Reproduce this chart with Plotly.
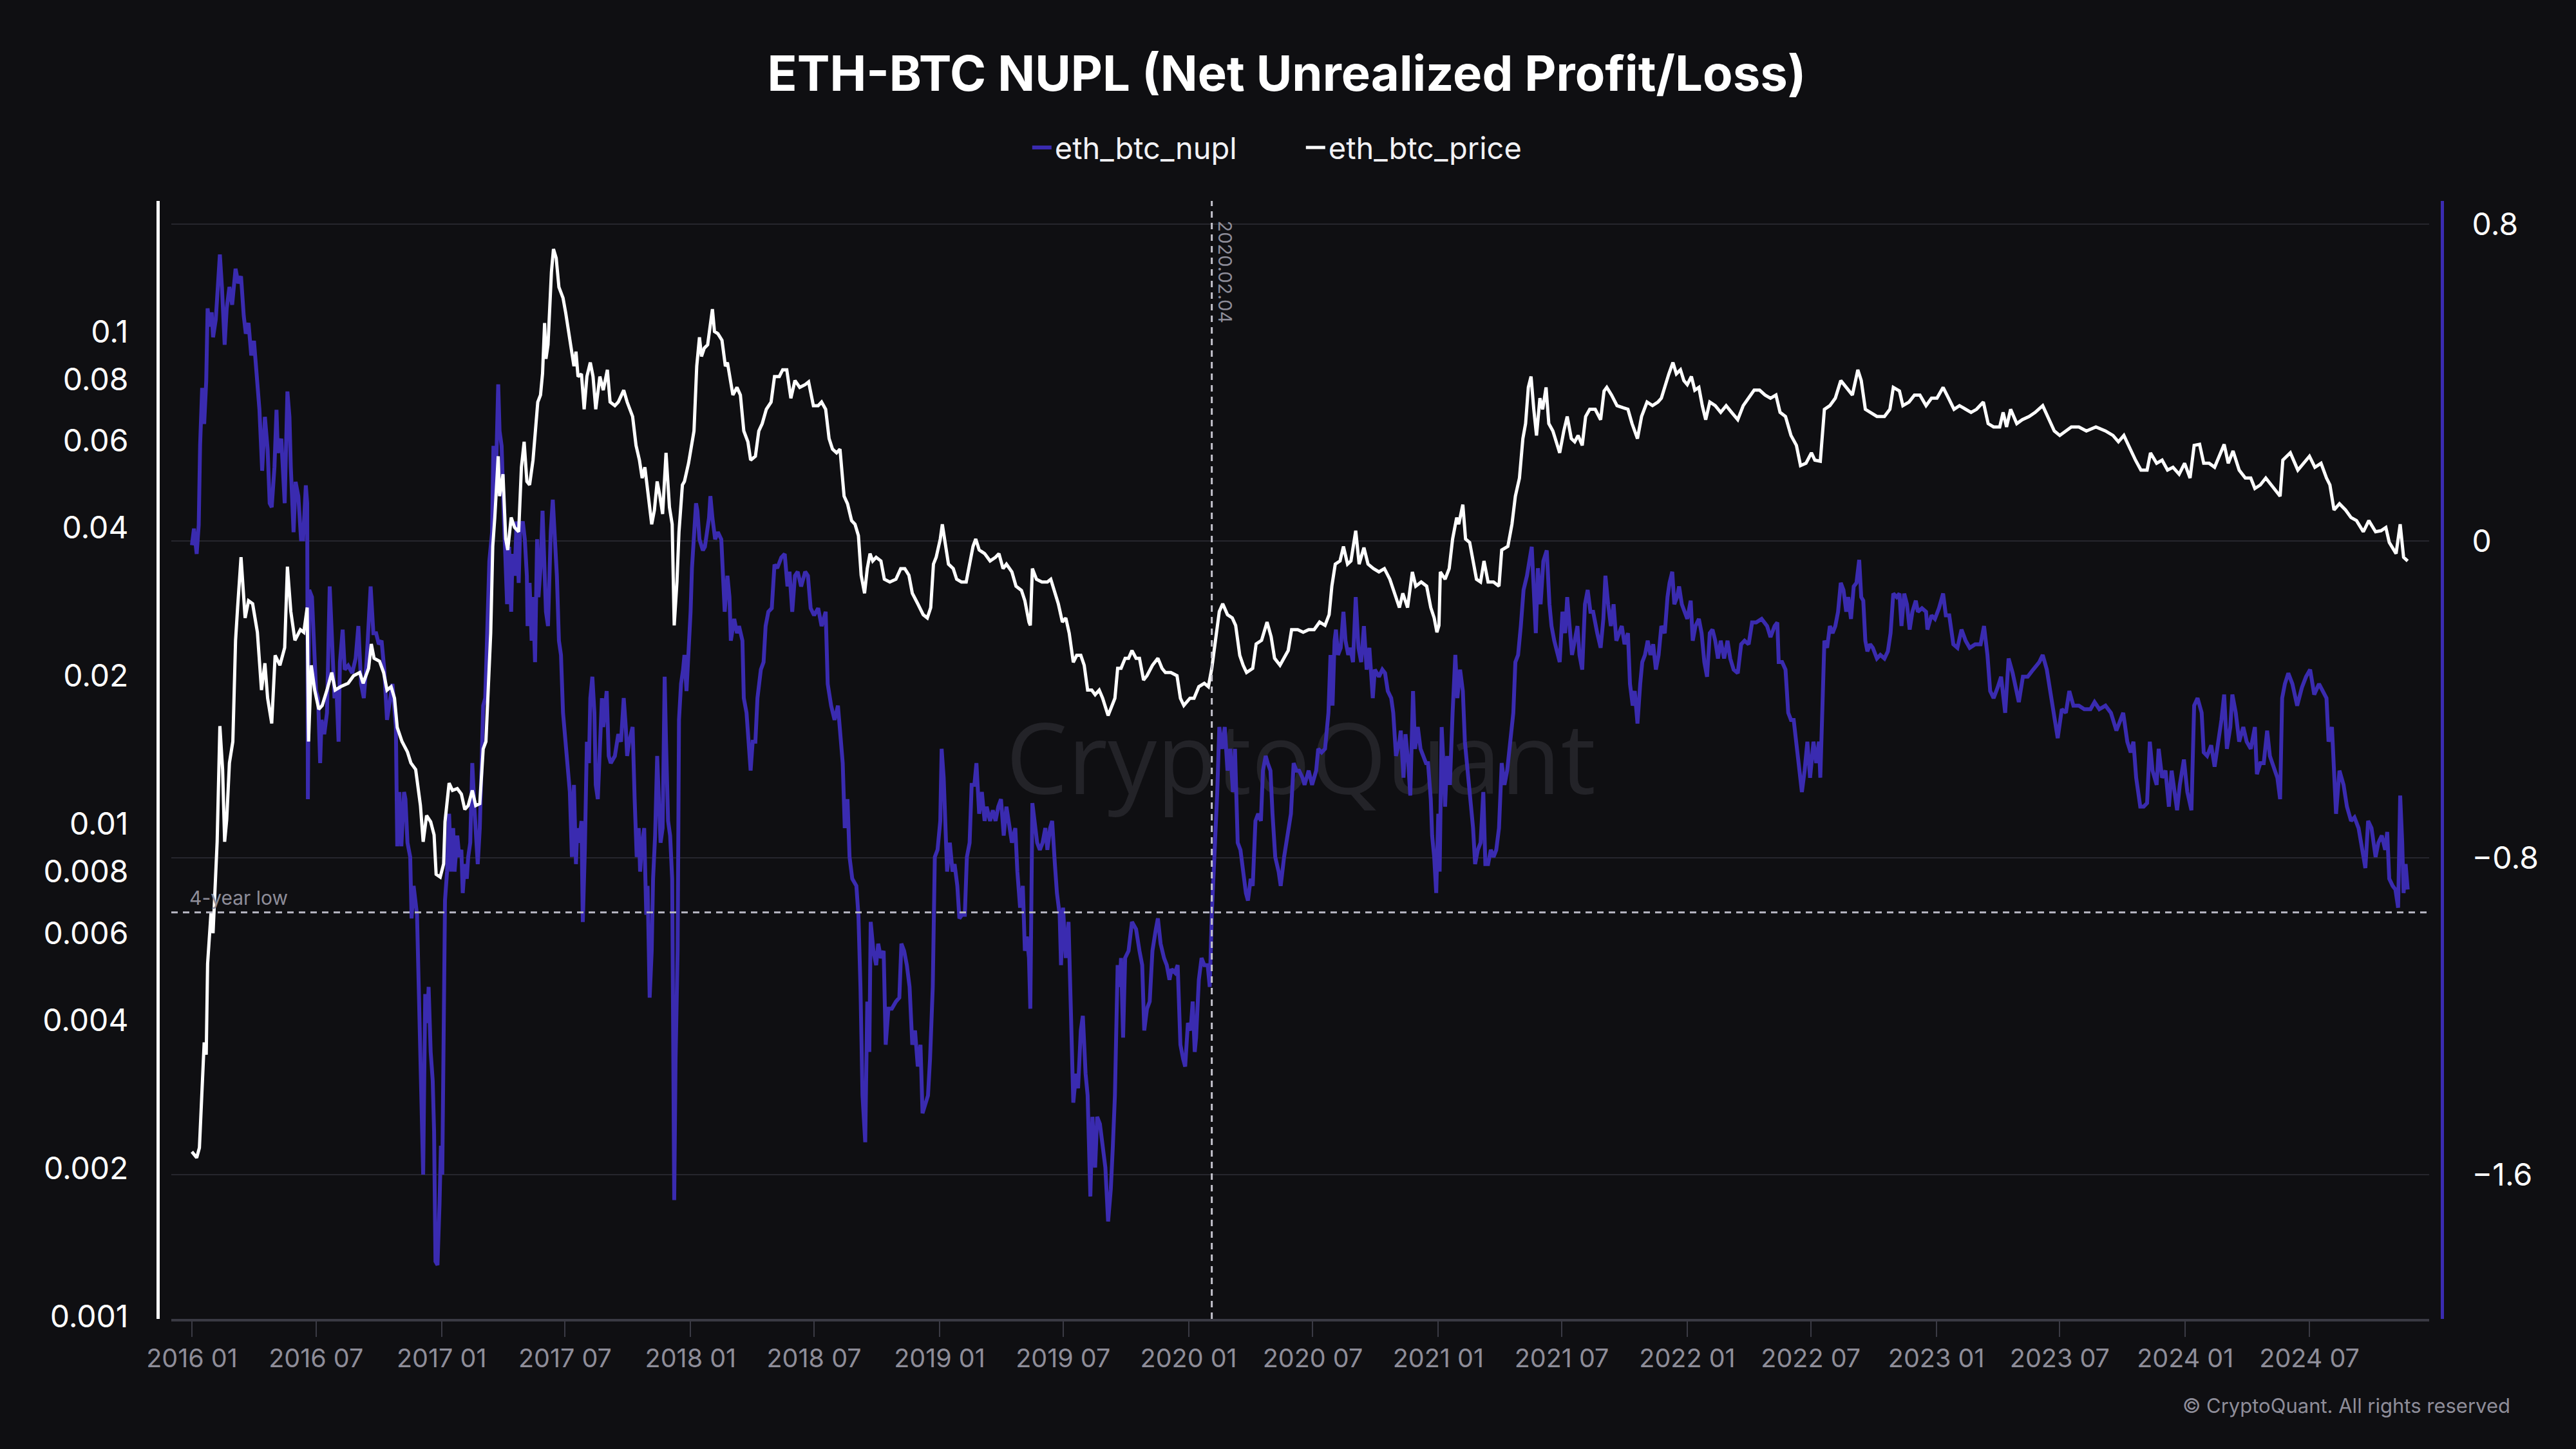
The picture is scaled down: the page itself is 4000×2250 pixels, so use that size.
import pandas as pd
import plotly.graph_objects as go

START = "2016-01-01"

# ---- eth_btc_price: day offset from 2016-01-01, value (BTC) ----
price_day = [0,7,11,15,18,21,23,28,31,37,41,45,48,51,55,60,64,67,72,78,83,89,96,102,107,111,117,122,129,136,140,145,151,159,164,169,171,175,180,186,191,198,205,210,218,229,237,246,251,259,263,267,275,281,286,292,297,301,308,316,321,328,335,339,344,350,355,358,364,369,371,377,382,389,395,400,405,411,416,422,427,431,434,438,441,444,449,451,456,460,463,468,473,479,483,487,491,495,500,504,507,511,514,517,519,522,527,530,534,538,544,548,552,556,560,563,566,571,575,579,584,588,592,598,603,609,613,620,625,633,638,646,651,656,660,664,668,674,678,682,686,690,695,700,704,707,711,714,719,722,728,732,736,740,744,747,751,756,759,763,766,771,777,782,
 785,790,793,799,804,809,815,819,826,831,836,842,849,854,861,866,872,878,884,891,899,904,911,918,923,929,934,939,945,950,956,961,967,972,977,981,986,990,994,998,1003,1010,1015,1023,1032,1039,1045,1051,1056,1064,1072,1078,1083,1087,1091,1097,1100,1105,1109,1116,1121,1128,1135,1140,1145,1149,1154,1162,1170,1178,1183,1189,1194,1202,1208,1216,1221,1227,1229,1232,1238,1246,1254,1259,1265,1270,1276,1281,1286,1292,1297,1303,1308,1313,1319,1324,1330,1335,1343,1349,1353,1357,1362,1368,1373,1378,1384,1389,1395,1400,1408,1416,1422,1427,1435,1444,1449,1454,1463,1469,1476,1484,1490,1495,1500,1506,1511,1518,1525,1530,1536,1541,1546,1555,1560,1568,1576,1582,1587,1595,
 1607,1612,1621,1629,1637,1645,1653,1661,1667,1671,1676,1683,1688,1694,1699,1706,1711,1718,1724,1732,1740,1748,1756,1764,1770,1775,1782,1789,1794,1802,1810,1816,1821,1825,1828,1830,1837,1843,1848,1854,1857,1863,1867,1873,1878,1883,1889,1894,1900,1908,1916,1920,1929,1935,1940,1946,1951,1955,1959,1963,1967,1971,1976,1980,1985,1989,1995,2000,2005,2011,2016,2022,2027,2032,2038,2043,2049,2057,2065,2070,2074,2081,2089,2098,2105,2111,2119,2125,2133,2141,2149,2154,2160,2165,2171,2176,2182,2187,2192,2198,2203,2209,2214,2219,2225,2233,2241,2249,2257,2266,2274,2282,2290,2298,2306,2314,2322,2328,2336,2344,2352,2358,2366,2374,2379,2387,2393,2401,2409,2417,2425,
 2434,2442,2447,2453,2461,2470,2481,2489,2494,2503,2508,2517,2525,2533,2542,2550,2558,2567,2575,2583,2591,2600,2608,2616,2626,2633,2641,2650,2655,2660,2666,2675,2683,2693,2702,2713,2722,2730,2738,2747,2755,2766,2777,2791,2805,2816,2824,2832,2841,2849,2857,2866,2871,2880,2888,2896,2904,2913,2921,2929,2935,2943,2949,2957,2965,2974,2979,2985,2992,3001,3010,3018,3024,3032,3040,3048,3057,3061,3065,3076,3087,3096,3104,3112,3121,3129,3134,3140,3148,3157,3165,3173,3183,3191,3201,3209,3216,3221,3231,3237,3242,3248]
price_val = [0.00216,0.0021,0.0022,0.0028,0.0036,0.0034,0.0052,0.0066,0.0060,0.0092,0.0158,0.0129,0.0092,0.0102,0.0133,0.0147,0.0236,0.0275,0.0348,0.0262,0.0284,0.028,0.0245,0.0187,0.0212,0.018,0.016,0.022,0.021,0.0228,0.0333,0.027,0.0236,0.0248,0.0245,0.0275,0.0147,0.021,0.0187,0.0171,0.0174,0.0187,0.0203,0.0187,0.019,0.0193,0.02,0.0203,0.0193,0.0207,0.0232,0.0217,0.0214,0.0203,0.0187,0.019,0.018,0.0157,0.0147,0.014,0.0133,0.0129,0.0109,0.0092,0.0104,0.0101,0.0095,0.0079,0.0078,0.0083,0.0101,0.0121,0.0117,0.0118,0.0115,0.0107,0.0109,0.0117,0.0109,0.011,0.0142,0.0147,0.0187,0.0244,0.0366,0.0419,0.0558,0.0463,0.0513,0.0379,0.036,0.0419,0.04,0.0392,0.053,0.0597,0.0496,0.0488,0.0548,0.0628,0.0719,0.0743,0.0822,0.104,0.088,0.094,0.132,0.147,0.141,0.123,0.117,0.109,0.1,0.094,0.085,0.091,0.081,0.082,0.0695,0.081,0.0865,0.081,0.0695,0.081,0.076,0.0836,0.0719,0.0707,0.0719,0.076,0.0719,0.0672,0.0587,0.0548,0.0504,0.053,0.048,0.0406,0.0434,0.0496,0.0463,0.0426,0.0567,0.044,0.0406,0.0253,0.031,0.0392,0.0488,0.0496,0.054,0.0587,0.0628,0.085,0.0973,0.089,0.0925,0.094,0.102,0.111,0.1,0.099,0.096,0.085,
 0.0865,0.0795,0.0743,0.077,0.0743,0.0628,0.0597,0.0548,0.0558,0.0628,0.065,0.0695,0.0719,0.081,0.081,0.0836,0.0836,0.0732,0.0795,0.077,0.078,0.079,0.0707,0.0707,0.0719,0.0695,0.0606,0.0577,0.0567,0.0577,0.0463,0.0447,0.0413,0.0406,0.0385,0.032,0.0294,0.033,0.0354,0.0342,0.0348,0.0342,0.0314,0.031,0.0314,0.033,0.033,0.032,0.0294,0.028,0.0266,0.0262,0.0275,0.0337,0.0348,0.0379,0.0406,0.0366,0.0337,0.033,0.0314,0.031,0.031,0.0337,0.0366,0.0379,0.036,0.0354,0.0342,0.0348,0.0354,0.033,0.0337,0.0325,0.0304,0.0298,0.0284,0.0257,0.0253,0.033,0.0314,0.031,0.031,0.0314,0.0294,0.028,0.0257,0.0262,0.0244,0.0213,0.022,0.022,0.021,0.0187,0.0187,0.0183,0.0187,0.018,0.0166,0.0174,0.018,0.0207,0.0207,0.0217,0.0217,0.0225,0.0217,0.0217,0.0196,0.02,0.021,0.0217,0.0207,0.0203,0.0203,0.020,0.018,0.0174,0.018,0.018,0.019,0.0193,0.019,0.0207,0.0236,0.027,0.028,0.0266,0.0262,0.0253,0.022,0.021,0.0203,0.0207,0.0232,0.0236,0.0257,0.024,0.0217,0.021,
 0.0225,0.0248,0.0248,0.0245,0.0248,0.0248,0.0257,0.0253,0.0266,0.0304,0.0337,0.0342,0.0366,0.0337,0.0342,0.0394,0.0337,0.0364,0.0337,0.033,0.0325,0.033,0.0314,0.0289,0.0275,0.0294,0.0275,0.0325,0.0304,0.031,0.0304,0.0275,0.0262,0.0245,0.0253,0.0325,0.0314,0.033,0.0379,0.0419,0.0406,0.0445,0.0379,0.0373,0.0342,0.0314,0.031,0.0342,0.031,0.031,0.0304,0.036,0.0366,0.0406,0.0463,0.0504,0.0606,0.065,0.077,0.081,0.0695,0.0615,0.0732,0.0695,0.077,0.065,0.0628,0.0597,0.0567,0.0628,0.0672,0.0606,0.0597,0.0615,0.0587,0.0672,0.0695,0.0695,0.0662,0.0757,0.077,0.0743,0.0707,0.07,0.0695,0.065,0.0606,0.0672,0.0719,0.0707,0.0719,0.0732,0.078,0.082,0.0865,0.082,0.0836,0.0795,0.078,0.081,0.076,0.077,0.0707,0.0662,0.0719,0.0707,0.0685,0.0707,0.0685,0.0662,0.0707,0.0732,0.076,0.076,0.0743,0.0732,0.0743,0.0685,0.0672,0.0615,0.0587,0.0534,0.054,0.0567,0.0548,0.0545,0.0695,0.0707,0.0732,0.0795,0.077,
 0.0743,0.0836,0.0795,0.0695,0.0685,0.0672,0.0672,0.0695,0.077,0.0757,0.0707,0.0719,0.0743,0.0743,0.0707,0.0732,0.0732,0.077,0.0732,0.0695,0.0707,0.0695,0.0685,0.0695,0.0719,0.065,0.064,0.064,0.0685,0.064,0.0695,0.065,0.0662,0.0672,0.0685,0.0707,0.0662,0.0628,0.0615,0.0628,0.064,0.064,0.0628,0.064,0.0628,0.0615,0.0597,0.0615,0.0577,0.0548,0.0523,0.0523,0.0567,0.054,0.0548,0.0523,0.053,0.0513,0.054,0.0504,0.0587,0.059,0.054,0.054,0.053,0.0567,0.059,0.054,0.0572,0.0523,0.0504,0.0504,0.048,0.0488,0.0504,0.0488,0.0472,0.0463,0.0548,0.0567,0.0523,0.054,0.0558,0.053,0.054,0.0504,0.0488,0.0434,0.0447,0.0434,0.0419,0.0413,0.0392,0.0413,0.0392,0.0394,0.04,0.0373,0.0354,0.0406,0.0348,0.0342]

# ---- eth_btc_nupl: day offset from 2016-01-01, value ----
nupl_day = [0,3,7,10,12,15,18,21,23,26,29,31,35,38,41,44,48,51,55,59,64,68,72,76,79,83,87,91,95,99,103,107,111,114,117,121,124,126,131,133,136,140,143,145,149,152,156,160,163,167,169,170,172,176,179,182,185,188,190,194,198,202,205,209,212,215,217,221,224,229,235,240,244,248,252,256,262,266,270,274,278,282,286,290,294,299,301,304,307,311,313,316,320,322,325,330,333,337,339,342,345,347,350,353,355,357,360,363,365,367,369,371,374,377,380,383,385,389,392,395,397,400,403,405,408,411,414,416,419,422,424,427,430,433,436,440,442,445,449,451,454,457,460,462,465,468,470,473,476,479,481,485,488,491,492,495,498,500,503,506,508,511,514,517,519,522,526,529,533,535,538,541,544,546,549,552,554,557,560,563,565,568,571,573,576,579,582,584,587,590,592,595,598,601,603,608,611,614,620,625,629,633,636,638,641,646,649,652,655,657,660,663,666,668,671,674,676,679,682,685,687,690,693,695,698,701,704,705,707,709,712,714,717,720,722,725,728,731,733,736,739,741,744,749,752,758,760,763,767,771,776,778,781,
 785,788,790,795,799,802,807,809,813,816,819,822,826,829,834,838,841,845,850,854,858,864,869,873,876,880,884,888,893,899,903,907,912,918,923,929,932,937,942,947,950,954,957,961,964,968,974,977,980,983,987,990,993,995,999,1003,1006,1010,1014,1017,1021,1026,1032,1037,1040,1044,1048,1052,1056,1060,1064,1068,1071,1075,1079,1082,1086,1089,1093,1097,1099,1102,1105,1107,1111,1115,1118,1122,1125,1129,1133,1136,1140,1143,1147,1150,1154,1158,1162,1165,1170,1174,1178,1182,1186,1190,1194,1198,1202,1207,1210,1214,1218,1221,1224,1227,1229,1232,1236,1239,1243,1247,1251,1254,1258,1261,1265,1268,1272,1274,1277,1281,1285,1288,1292,1296,1299,1303,1306,1310,1313,1317,1320,1324,1327,1331,1335,1339,1343,1347,1350,1353,1357,1360,1362,1365,1368,1373,1378,1384,1389,1393,1396,1400,1404,1408,1413,1416,1420,1425,1429,1433,1436,1441,1445,1449,1453,1456,1460,1464,1467,1470,1472,1476,1480,1484,1489,1492,1495,1498,1500,1503,1506,1510,1514,1518,1522,1526,1529,1533,1537,1541,1545,1548,1552,1555,1559,1563,1567,1570,1574,1577,1581,1584,1588,1593,1596,1601,
 1607,1611,1615,1619,1623,1628,1631,1637,1642,1648,1651,1656,1661,1666,1669,1672,1675,1677,1680,1684,1688,1691,1695,1698,1702,1706,1710,1714,1718,1722,1726,1731,1734,1740,1745,1749,1753,1758,1761,1765,1770,1772,1776,1779,1783,1786,1790,1793,1797,1801,1805,1809,1812,1816,1818,1821,1824,1827,1829,1832,1835,1837,1840,1844,1848,1852,1855,1859,1863,1866,1870,1874,1878,1881,1885,1889,1893,1896,1900,1904,1908,1912,1916,1920,1924,1928,1932,1937,1940,1944,1948,1952,1957,1960,1964,1966,1970,1973,1977,1981,1986,1990,1993,1997,2002,2005,2009,2013,2016,2020,2023,2027,2031,2034,2038,2042,2046,2050,2054,2060,2065,2069,2072,2076,2080,2084,2088,2092,2096,2100,2105,2108,2112,2115,2119,2123,2126,2130,2134,2138,2142,2146,2150,2154,2159,2163,2166,2170,2173,2177,2180,2184,2188,2192,2197,2200,2204,2209,2213,2217,2221,2225,2229,2233,2237,2241,2246,2251,2255,2260,2266,2271,2276,2282,2287,2293,2301,2309,2314,2320,2324,2326,2331,2336,2340,2344,2348,2352,2356,2360,2364,2368,2372,2377,2381,2385,2387,2390,2393,2397,2401,2405,2409,2413,2417,2421,2425,
 2428,2432,2436,2440,2444,2447,2450,2453,2456,2460,2464,2470,2475,2481,2486,2490,2494,2499,2503,2506,2510,2514,2518,2522,2527,2530,2536,2542,2544,2550,2555,2561,2567,2571,2576,2582,2588,2594,2600,2606,2614,2622,2627,2632,2636,2641,2647,2652,2658,2663,2669,2675,2678,2684,2691,2699,2708,2713,2719,2724,2730,2735,2741,2747,2752,2758,2766,2774,2783,2789,2796,2805,2813,2821,2827,2831,2837,2842,2846,2850,2856,2861,2866,2870,2874,2880,2883,2888,2893,2898,2902,2906,2910,2914,2920,2925,2931,2935,2940,2946,2949,2954,2960,2965,2971,2975,2979,2983,2988,2991,2996,3001,3007,3012,3018,3024,3027,3032,3037,3042,3046,3051,3057,3061,3064,3068,3073,3079,3086,3093,3099,3105,3111,3118,3123,3129,3132,3137,3143,3148,3154,3159,3165,3170,3176,3181,3186,3190,3195,3201,3205,3210,3215,3218,3221,3226,3230,3234,3237,3240,3242,3245,3248]
nupl_val = [-0.011,0.031,-0.033,0.040,0.240,0.386,0.295,0.404,0.587,0.541,0.577,0.514,0.559,0.659,0.723,0.641,0.495,0.587,0.641,0.596,0.687,0.650,0.668,0.568,0.523,0.550,0.468,0.505,0.423,0.331,0.177,0.313,0.231,0.095,0.085,0.186,0.331,0.222,0.258,0.204,0.095,0.377,0.313,0.186,0.022,0.149,0.113,0.004,0.004,0.140,0.095,-0.652,-0.124,-0.142,-0.288,-0.379,-0.397,-0.561,-0.452,-0.488,-0.434,-0.115,-0.233,-0.397,-0.379,-0.507,-0.306,-0.224,-0.325,-0.315,-0.334,-0.297,-0.215,-0.361,-0.397,-0.306,-0.115,-0.233,-0.233,-0.261,-0.252,-0.325,-0.452,-0.397,-0.361,-0.470,-0.771,-0.634,-0.771,-0.634,-0.652,-0.762,-0.798,-0.953,-0.871,-0.944,-1.181,-1.400,-1.600,-1.144,-1.217,-1.126,-1.290,-1.363,-1.491,-1.819,-1.828,-1.673,-1.527,-1.600,-1.308,-0.908,-0.835,-0.689,-0.835,-0.725,-0.835,-0.744,-0.798,-0.780,-0.889,-0.816,-0.853,-0.798,-0.762,-0.561,-0.671,-0.725,-0.816,-0.725,-0.561,-0.416,-0.397,-0.215,-0.051,0.022,0.240,0.113,0.395,0.277,0.240,0.076,-0.069,-0.160,-0.015,-0.179,-0.033,-0.088,0.049,-0.106,0.022,0.049,0.004,-0.088,-0.215,-0.106,-0.252,-0.142,-0.306,0.004,-0.142,-0.069,0.076,-0.051,-0.179,-0.215,0.022,0.104,-0.015,-0.088,-0.252,-0.288,-0.434,-0.470,-0.525,-0.598,-0.634,-0.798,-0.616,-0.816,-0.725,-0.762,-0.707,-0.962,-0.780,-0.507,-0.561,-0.397,-0.343,-0.434,-0.616,-0.652,-0.507,-0.397,-0.470,-0.379,-0.543,-0.561,-0.543,-0.488,-0.507,-0.397,-0.470,-0.543,-0.507,-0.470,-0.652,-0.798,-0.725,-0.835,-0.762,-0.725,-0.944,-0.871,-1.153,-1.035,-0.853,-0.744,-0.543,-0.689,-0.762,-0.725,-0.343,-0.507,-0.707,-0.744,-0.853,-1.126,-1.664,-1.308,-1.035,-0.452,-0.361,-0.325,-0.288,-0.379,-0.288,-0.179,-0.069,0.004,0.095,0.076,0.004,-0.024,-0.015,0.058,0.113,0.058,0.004,0.022,0.004,-0.069,-0.179,
 -0.088,-0.142,-0.252,-0.197,-0.233,-0.215,-0.252,-0.397,-0.434,-0.507,-0.580,-0.507,-0.507,-0.397,-0.325,-0.306,-0.215,-0.179,-0.170,-0.060,-0.069,-0.042,-0.033,-0.115,-0.078,-0.179,-0.088,-0.078,-0.115,-0.078,-0.088,-0.170,-0.188,-0.170,-0.215,-0.179,-0.361,-0.416,-0.452,-0.416,-0.488,-0.561,-0.725,-0.652,-0.798,-0.853,-0.871,-0.944,-1.126,-1.400,-1.518,-1.163,-1.290,-0.962,-1.035,-1.071,-1.017,-1.053,-1.035,-1.272,-1.181,-1.181,-1.163,-1.153,-1.017,-1.035,-1.071,-1.126,-1.272,-1.236,-1.327,-1.272,-1.445,-1.418,-1.400,-1.308,-1.126,-0.798,-0.780,-0.707,-0.525,-0.598,-0.725,-0.835,-0.762,-0.835,-0.816,-0.871,-0.953,-0.944,-0.944,-0.798,-0.762,-0.616,-0.616,-0.561,-0.689,-0.634,-0.707,-0.671,-0.707,-0.680,-0.707,-0.671,-0.652,-0.744,-0.671,-0.725,-0.762,-0.725,-0.835,-0.926,-0.871,-1.035,-0.999,-1.053,-1.181,-0.662,-0.725,-0.762,-0.780,-0.762,-0.725,-0.780,-0.725,-0.707,-0.816,-0.889,-0.944,-1.071,-0.926,-1.053,-0.962,-1.181,-1.418,-1.345,-1.382,-1.236,-1.199,-1.345,-1.400,-1.655,-1.454,-1.582,-1.454,-1.472,-1.527,-1.582,-1.718,-1.636,-1.527,-1.400,-1.071,-1.126,-1.053,-1.254,-1.053,-1.035,-0.962,-0.980,-1.035,-1.071,-1.236,-1.181,-1.163,-1.035,-0.980,-0.953,-1.017,-1.053,-1.071,-1.108,-1.081,-1.090,-1.071,-1.272,-1.308,-1.327,-1.217,-1.236,-1.163,-1.290,-1.254,-1.108,-1.053,-1.071,-1.071,-1.126,-0.944,-0.835,-0.762,-0.634,-0.470,-0.525,-0.470,-0.580,-0.525,-0.634,-0.525,-0.762,-0.780,-0.835,-0.889,-0.908,-0.853,-0.871,-0.707,-0.689,-0.707,-0.580,-0.543,-0.561,-0.580,-0.689,-0.798,-0.835,-0.871,-0.798,
 -0.725,-0.689,-0.561,-0.580,-0.580,-0.598,-0.616,-0.580,-0.616,-0.580,-0.525,-0.534,-0.525,-0.434,-0.288,-0.416,-0.252,-0.224,-0.288,-0.270,-0.179,-0.252,-0.288,-0.270,-0.306,-0.142,-0.270,-0.306,-0.215,-0.325,-0.270,-0.397,-0.325,-0.343,-0.325,-0.334,-0.379,-0.397,-0.434,-0.543,-0.507,-0.479,-0.598,-0.488,-0.561,-0.643,-0.379,-0.525,-0.470,-0.525,-0.543,-0.561,-0.561,-0.652,-0.744,-0.798,-0.889,-0.689,-0.835,-0.470,-0.580,-0.671,-0.543,-0.616,-0.434,-0.288,-0.397,-0.325,-0.379,-0.507,-0.580,-0.652,-0.725,-0.816,-0.780,-0.762,-0.634,-0.816,-0.816,-0.780,-0.798,-0.780,-0.725,-0.561,-0.616,-0.580,-0.507,-0.434,-0.306,-0.288,-0.215,-0.124,-0.088,-0.051,-0.015,-0.088,-0.233,-0.069,-0.160,-0.051,-0.024,-0.160,-0.215,-0.252,-0.288,-0.306,-0.179,-0.233,-0.142,-0.215,-0.288,-0.252,-0.215,-0.288,-0.325,-0.160,-0.124,-0.179,-0.179,-0.233,-0.270,-0.197,-0.088,-0.160,-0.215,-0.160,-0.252,-0.233,-0.215,-0.261,-0.233,-0.361,-0.416,-0.379,-0.461,-0.361,-0.306,-0.288,-0.252,-0.288,-0.261,-0.325,-0.288,-0.215,-0.233,-0.142,-0.106,-0.078,-0.160,-0.142,-0.115,-0.160,-0.179,-0.197,-0.151,-0.252,-0.215,-0.197,-0.233,-0.306,-0.343,-0.233,-0.224,-0.252,-0.297,-0.252,-0.297,-0.252,-0.297,-0.325,-0.334,-0.261,-0.252,-0.261,-0.206,-0.206,-0.197,-0.215,-0.243,-0.215,-0.206,-0.306,-0.306,-0.325,-0.434,-0.452,-0.452,-0.507,-0.580,-0.634,-0.580,-0.507,-0.598,-0.507,-0.561,-0.507,-0.598,-0.397,-0.252,-0.270,-0.215,-0.233,-0.215,-0.179,-0.106,-0.124,-0.179,
 -0.142,-0.197,-0.115,-0.106,-0.048,-0.142,-0.151,-0.252,-0.279,-0.261,-0.270,-0.297,-0.288,-0.297,-0.279,-0.233,-0.133,-0.142,-0.133,-0.215,-0.133,-0.160,-0.224,-0.179,-0.151,-0.179,-0.170,-0.179,-0.224,-0.188,-0.197,-0.170,-0.133,-0.188,-0.188,-0.261,-0.270,-0.224,-0.252,-0.270,-0.261,-0.261,-0.215,-0.288,-0.379,-0.397,-0.370,-0.343,-0.434,-0.297,-0.334,-0.379,-0.407,-0.343,-0.343,-0.325,-0.306,-0.288,-0.325,-0.379,-0.452,-0.498,-0.425,-0.434,-0.379,-0.416,-0.416,-0.425,-0.425,-0.407,-0.425,-0.416,-0.434,-0.479,-0.452,-0.434,-0.507,-0.534,-0.507,-0.598,-0.671,-0.671,-0.662,-0.507,-0.580,-0.616,-0.525,-0.598,-0.580,-0.671,-0.580,-0.634,-0.680,-0.616,-0.552,-0.634,-0.680,-0.416,-0.397,-0.434,-0.534,-0.543,-0.516,-0.570,-0.507,-0.452,-0.388,-0.525,-0.470,-0.388,-0.434,-0.507,-0.470,-0.507,-0.525,-0.470,-0.589,-0.561,-0.561,-0.479,-0.543,-0.570,-0.598,-0.652,-0.397,-0.361,-0.334,-0.361,-0.416,-0.370,-0.343,-0.325,-0.388,-0.361,-0.379,-0.397,-0.507,-0.470,-0.689,-0.580,-0.616,-0.671,-0.707,-0.698,-0.725,-0.780,-0.826,-0.707,-0.725,-0.798,-0.762,-0.744,-0.780,-0.735,-0.853,-0.871,-0.880,-0.926,-0.643,-0.762,-0.889,-0.816,-0.880]

price_ticks = [0.001, 0.002, 0.004, 0.006, 0.008, 0.01, 0.02, 0.04, 0.06, 0.08, 0.1]
price_tick_text = ["0.001", "0.002", "0.004", "0.006", "0.008", "0.01", "0.02", "0.04", "0.06", "0.08", "0.1"]
nupl_ticks = [-1.6, -0.8, 0, 0.8]
nupl_tick_text = ["\u22121.6", "\u22120.8", "0", "0.8"]
marker_date = "2020-02-04"
marker_label = "2020.02.04"
four_year_low = -0.938

origin = pd.Timestamp(START)
price_x = origin + pd.to_timedelta(price_day, unit="D")
nupl_x = origin + pd.to_timedelta(nupl_day, unit="D")

BG = "#0f0f12"
PURPLE = "#3a2bb0"
GRAY = "#8e8d99"
FONT = "Inter"

fig = go.Figure()
fig.add_trace(go.Scatter(x=nupl_x, y=nupl_val, name="eth_btc_nupl", mode="lines",
                         line=dict(color=PURPLE, width=6), yaxis="y"))
fig.add_trace(go.Scatter(x=price_x, y=price_val, name="eth_btc_price", mode="lines",
                         line=dict(color="#ffffff", width=5), yaxis="y2"))

x_lo = origin + pd.Timedelta(days=-30.2)
x_hi = origin + pd.Timedelta(days=3279.5)

fig.update_layout(
    width=4000, height=2250, autosize=False,
    margin=dict(l=0, r=0, t=0, b=0, autoexpand=False),
    paper_bgcolor=BG, plot_bgcolor=BG,
    font=dict(family=FONT, color="#ffffff"),
    title=dict(text="<b>ETH-BTC NUPL (Net Unrealized Profit/Loss)</b>",
               x=0.4995, xanchor="center", xref="paper",
               y=0.949, yanchor="middle", yref="container", automargin=False,
               font=dict(size=76, color="#ffffff", family=FONT)),
    legend=dict(orientation="h", x=0.5057, xanchor="center", y=0.898, yanchor="middle",
                font=dict(size=47, color="#f2f2f5", family=FONT),
                bgcolor="rgba(0,0,0,0)", entrywidth=380, entrywidthmode="pixels"),
    showlegend=True,
    xaxis=dict(domain=[0.0665, 0.943], range=[x_lo, x_hi], type="date", automargin=False,
               tickformat="%Y %m", dtick="M6", tick0="2016-01-01",
               showgrid=False, zeroline=False,
               showline=True, linecolor="#3a3a44", linewidth=4,
               ticks="outside", ticklen=24, tickwidth=2, tickcolor="#3a3a44",
               tickfont=dict(size=39.5, color=GRAY, family=FONT),
               anchor="y"),
    yaxis=dict(domain=[0.0898, 0.8613], range=[-1.964, 0.858], automargin=False,
               side="right", anchor="free", position=0.948,
               tickvals=nupl_ticks, ticktext=nupl_tick_text,
               showgrid=True, gridcolor="#26262d", gridwidth=2, zeroline=False,
               showline=True, linecolor=PURPLE, linewidth=5,
               ticks="outside", ticklen=34, tickcolor="rgba(0,0,0,0)",
               tickfont=dict(size=48, color="#ffffff", family=FONT)),
    yaxis2=dict(domain=[0.0898, 0.8613], type="log", range=[-3.005, -0.735], automargin=False,
                side="left", anchor="free", position=0.06125, overlaying="y",
                tickvals=price_ticks, ticktext=price_tick_text,
                showgrid=False, zeroline=False,
                showline=True, linecolor="#ffffff", linewidth=5,
                ticks="outside", ticklen=34, tickcolor="rgba(0,0,0,0)",
                tickfont=dict(size=48, color="#ffffff", family=FONT)),
)

# watermark (drawn below the data)
fig.add_shape(type="rect", xref="paper", yref="paper", x0=0.38, x1=0.63, y0=0.421, y1=0.526,
              line=dict(width=0), fillcolor="rgba(0,0,0,0)", layer="below",
              label=dict(text="CryptoQuant", textposition="middle center",
                         font=dict(size=152, color="#232328", family="Open Sans")))

# 4-year low reference line
fig.add_shape(type="line", xref="x domain", x0=0, x1=1, yref="y", y0=four_year_low, y1=four_year_low,
              line=dict(color="#b9b8c4", width=3, dash="10px,8px"))
fig.add_annotation(text="4-year low", xref="x domain", x=0.0074, xanchor="left",
                   yref="y", y=four_year_low, yanchor="bottom", yshift=3, showarrow=False,
                   font=dict(size=30, color=GRAY, family=FONT))

# vertical date marker
fig.add_shape(type="line", xref="x", x0=marker_date, x1=marker_date, yref="y domain", y0=0, y1=1,
              line=dict(color="#c4c3cd", width=3, dash="10px,8px"))
fig.add_annotation(text=marker_label, xref="x", x=marker_date, xanchor="center", xshift=21,
                   yref="y domain", y=0.9366, yanchor="middle", textangle=90, showarrow=False,
                   font=dict(size=29, color=GRAY, family=FONT))

# copyright
fig.add_annotation(text="\u00a9 CryptoQuant. All rights reserved", xref="paper", x=0.975, xanchor="right",
                   yref="paper", y=0.0298, yanchor="middle", showarrow=False,
                   font=dict(size=31, color=GRAY, family=FONT))

fig.write_html("out.html")
